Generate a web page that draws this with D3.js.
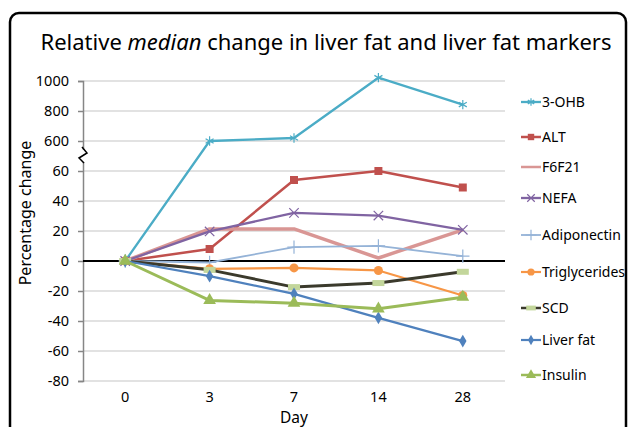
<!DOCTYPE html>
<meta charset="utf-8">
<style>
body { margin: 0; background: white; }
text { font-family: "Noto Sans", sans-serif; fill: #000; }
.grid line { stroke: #d9d9d9; stroke-width: 1.5px; }
</style>
<body>
<script src="https://d3js.org/d3.v7.min.js"></script>
<script>
var width = 629,
    height = 427;

// data
var days = ["0", "3", "7", "14", "28"];
var yTicks = [-80, -60, -40, -20, 0, 20, 40, 60, 600, 800, 1000];

var ohb = [0, 600, 620, 1022, 843];
var alt = [0, 8, 54, 60.5, 49];
var f6f21 = [0, 21.4, 21.4, 2, 20.8];
var nefa = [0, 19.7, 32.1, 30.3, 20.8];
var adiponectin = [0, -1, 9.2, 10.1, 3.2];
var triglycerides = [0, -5.2, -4.6, -6.3, -23];
var scd = [0, -5.9, -17.4, -14.7, -7.2];
var liverFat = [0, -10.1, -21.9, -37.9, -53.4];
var insulin = [0, -26.3, -28.1, -31.9, -24.1];

var series = [
  {name: "3-OHB", values: ohb, color: "#4bacc6", width: 2.3, marker: "asterisk", mcolor: "#4bacc6"},
  {name: "ALT", values: alt, color: "#c0504d", width: 2.5, marker: "square", mcolor: "#c0504d"},
  {name: "F6F21", values: f6f21, color: "#d99694", width: 3.5, marker: null},
  {name: "NEFA", values: nefa, color: "#8064a2", width: 2.3, marker: "times", mcolor: "#8064a2"},
  {name: "Adiponectin", values: adiponectin, color: "#95b3d7", width: 1.8, marker: "plus", mcolor: "#95b3d7"},
  {name: "Triglycerides", values: triglycerides, color: "#f79646", width: 2.2, marker: "circle", mcolor: "#f79646"},
  {name: "SCD", values: scd, color: "#3b3a2c", width: 3, marker: "dash", mcolor: "#c3d69b"},
  {name: "Liver fat", values: liverFat, color: "#4f81bd", width: 2.2, marker: "diamond", mcolor: "#4f81bd"},
  {name: "Insulin", values: insulin, color: "#9bbb59", width: 3, marker: "triangle", mcolor: "#9bbb59"}
];
var legendY = [102, 137, 167, 198, 235, 272, 308, 340, 375];

var svg = d3.select("body").append("svg")
    .attr("width", width)
    .attr("height", height);

// frame
svg.append("rect")
    .attr("x", 10).attr("y", 13)
    .attr("width", 616).attr("height", 440)
    .attr("rx", 9)
    .attr("fill", "none")
    .attr("stroke", "#000")
    .attr("stroke-width", 2.5);

var plotLeft = 83, plotRight = 505, plotTop = 81, plotBottom = 381;
var step = (plotBottom - plotTop) / 10;

var x = d3.scalePoint()
    .domain(days)
    .range([plotLeft, plotRight])
    .padding(0.5);

// broken axis: linear below 60, compressed above 600
var y = d3.scaleLinear()
    .domain([-80, 60, 600, 1000])
    .range([plotBottom, plotBottom - 7 * step, plotBottom - 8 * step, plotTop]);

// gridlines
svg.append("g").attr("class", "grid")
  .selectAll("line")
  .data(yTicks.filter(function(d) { return d !== 0; }))
  .enter().append("line")
    .attr("x1", plotLeft).attr("x2", plotRight)
    .attr("y1", function(d) { return y(d); })
    .attr("y2", function(d) { return y(d); });

// y axis
var yAxis = svg.append("g")
    .attr("transform", "translate(" + plotLeft + ",0)")
    .call(d3.axisLeft(y).tickValues(yTicks).tickFormat(function(d) { return String(d); })
      .tickSize(5).tickPadding(9));
yAxis.select(".domain").attr("stroke", "#868686").attr("stroke-width", 1.5);
yAxis.selectAll(".tick line").attr("stroke", "#868686").attr("stroke-width", 1.5);
yAxis.selectAll(".tick text")
    .style("font-family", "'Noto Sans', sans-serif")
    .style("font-size", "14.5px")
    .attr("fill", "#000");

// axis break marker
var by = (y(60) + y(600)) / 2;
svg.append("rect")
    .attr("x", plotLeft - 2).attr("y", by - 6)
    .attr("width", 4).attr("height", 12)
    .attr("fill", "white");
svg.append("path")
    .attr("d", "M" + (plotLeft - 1) + "," + (by - 9) + "L" + (plotLeft + 4) + "," + (by - 3) +
               "L" + (plotLeft - 4) + "," + (by + 2) + "L" + (plotLeft + 1) + "," + (by + 7))
    .attr("fill", "none")
    .attr("stroke", "#000")
    .attr("stroke-width", 1.5);

// zero line (category axis)
svg.append("line")
    .attr("x1", plotLeft).attr("x2", plotRight)
    .attr("y1", y(0)).attr("y2", y(0))
    .attr("stroke", "#000")
    .attr("stroke-width", 2);

// x labels
svg.append("g")
  .selectAll("text")
  .data(days)
  .enter().append("text")
    .attr("x", function(d) { return x(d); })
    .attr("y", 402)
    .attr("text-anchor", "middle")
    .style("font-size", "14.5px")
    .text(function(d) { return d; });

svg.append("text")
    .attr("x", x("7"))
    .attr("y", 423)
    .attr("text-anchor", "middle")
    .style("font-size", "15.5px")
    .text("Day");

svg.append("text")
    .attr("transform", "translate(31," + 213 + ") rotate(-90)")
    .attr("text-anchor", "middle")
    .style("font-size", "16px")
    .text("Percentage change");

// title
var title = svg.append("text")
    .attr("x", 326)
    .attr("y", 50)
    .attr("text-anchor", "middle")
    .style("font-size", "22px");
title.append("tspan").text("Relative ");
title.append("tspan").style("font-style", "italic").text("median");
title.append("tspan").text(" change in liver fat and liver fat markers");

function drawMarker(g, type, color, cx, cy, scale) {
  scale = scale || 1;
  if (!type) return;
  if (type === "dash") {
    g.append("rect")
      .attr("x", cx - 6 * scale).attr("y", cy - 3 * scale)
      .attr("width", 12 * scale).attr("height", 6 * scale)
      .attr("fill", color);
    return;
  }
  var sym = {
    asterisk: d3.symbolAsterisk,
    times: d3.symbolTimes,
    plus: d3.symbolPlus,
    square: d3.symbolSquare,
    circle: d3.symbolCircle,
    diamond: d3.symbolDiamond,
    triangle: d3.symbolTriangle
  }[type];
  var size = {asterisk: 60, times: 60, plus: 60, square: 64, circle: 64, diamond: 48, triangle: 70}[type] * scale * scale;
  var stroked = (type === "asterisk" || type === "times" || type === "plus");
  g.append("path")
    .attr("transform", "translate(" + cx + "," + cy + ")")
    .attr("d", d3.symbol().type(sym).size(size)())
    .attr("fill", stroked ? "none" : color)
    .attr("stroke", stroked ? color : "none")
    .attr("stroke-width", 1.2);
}

var line = d3.line()
    .x(function(d, i) { return x(days[i]); })
    .y(function(d) { return y(d); });

series.forEach(function(s) {
  var g = svg.append("g");
  g.append("path")
    .attr("d", line(s.values))
    .attr("fill", "none")
    .attr("stroke", s.color)
    .attr("stroke-width", s.width)
    .attr("stroke-linejoin", "round");
  s.values.forEach(function(v, i) {
    drawMarker(g, s.marker, s.mcolor, x(days[i]), y(v));
  });
});

// legend
var legend = svg.append("g");
series.forEach(function(s, i) {
  var ly = legendY[i];
  legend.append("line")
    .attr("x1", 521).attr("x2", 541)
    .attr("y1", ly).attr("y2", ly)
    .attr("stroke", s.color)
    .attr("stroke-width", Math.min(s.width, 2.5));
  drawMarker(legend, s.marker, s.mcolor, 531, ly, 0.8);
  legend.append("text")
    .attr("x", 542)
    .attr("y", ly + 5)
    .style("font-size", "14px")
    .text(s.name);
});
</script>
</body>
</html>
